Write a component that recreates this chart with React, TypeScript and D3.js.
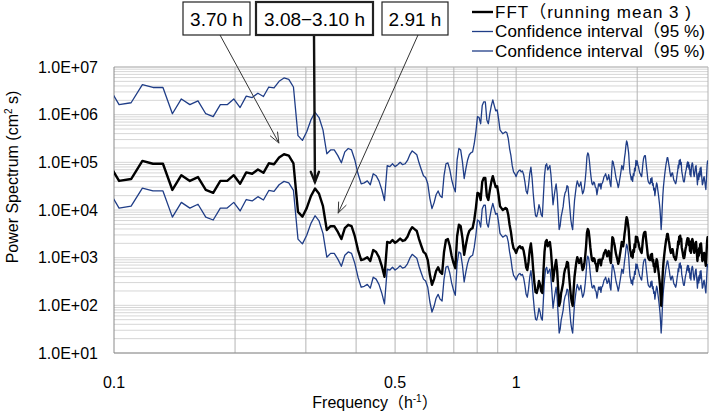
import React from "react";
import * as d3 from "d3";

// FFT bins: frequency = (FIRST_BIN + i) / RECORD_LENGTH_H  (h^-1)
const RECORD_LENGTH_H = 136;
const FIRST_BIN = 13;

// log10 of power spectrum (cm^2 s)
const fftLog10 = [
  5.07, 4.61, 4.65, 5.03, 4.97, 4.97, 4.42, 4.73, 4.61, 4.69,
  4.42, 4.36, 4.61, 4.61, 4.73, 4.55, 4.79, 4.76, 4.85, 4.78,
  4.98, 4.96, 5.10, 5.17, 5.14, 4.98, 3.96, 3.86, 4.04, 4.29,
  4.45, 4.34, 4.08, 3.58, 3.66, 3.66, 3.54, 3.39, 3.62, 3.69,
  3.66, 3.45, 3.16, 2.95, 2.97, 3.01, 2.93, 3.16, 3.12, 3.01,
  2.83, 2.60, 3.33, 3.31, 3.37, 3.31, 3.35, 3.40, 3.35, 3.37,
  3.44, 3.56, 3.64, 3.60, 3.56, 3.39, 3.25, 3.12, 3.08, 2.95,
  2.64, 2.43, 2.55, 2.72, 2.80, 2.70, 2.66, 3.12, 3.37, 3.39,
  3.25, 3.04, 2.89, 2.78, 3.45, 3.69, 3.66, 3.41, 3.06, 3.27,
  3.45, 3.56, 3.60, 3.62, 3.79, 4.04, 4.36, 4.34, 4.21, 4.59,
  4.67, 4.67, 4.29, 4.21, 4.42, 4.59, 4.71, 4.59, 4.48, 4.50,
  4.31, 4.08, 4.04, 4.00, 4.02, 4.04, 4.02, 3.90, 3.69, 3.54,
  3.33, 3.20, 3.16, 3.10, 3.18, 3.22, 3.24, 3.20, 3.22, 3.14,
  2.99, 2.80, 2.74, 2.91, 3.16, 3.30, 3.07, 2.74, 2.47, 2.28,
  2.26, 2.36, 2.51, 2.43, 2.30, 2.26, 2.70, 3.12, 3.33, 3.37,
  3.24, 3.29, 3.33, 3.14, 2.83, 2.51, 2.68, 2.83, 2.95, 2.74,
  2.36, 1.99, 2.07, 2.26, 2.36, 2.47, 2.66, 2.76, 2.80, 2.91,
  2.89, 2.66, 2.43, 2.20, 2.07, 1.99, 2.32, 2.60, 2.76, 2.91,
  3.01, 2.95, 2.89, 2.93, 2.99, 2.85, 2.74, 2.78, 2.87, 3.03,
  3.24, 3.52, 3.60, 3.56, 3.41, 3.22, 3.07, 2.95, 2.93, 2.99,
  2.97, 2.88, 2.86, 2.72, 2.82, 2.95, 2.90, 2.96, 2.84, 2.95,
  2.97, 3.03, 3.10, 3.12, 3.16, 3.10, 3.03, 3.05, 3.14, 3.07,
  2.95, 2.89, 3.20, 3.43, 3.41, 3.33, 3.26, 3.16, 3.07, 3.01,
  2.95, 2.87, 2.93, 3.03, 3.12, 3.22, 3.33, 3.31, 3.24, 3.35,
  3.50, 3.60, 3.75, 3.85, 3.81, 3.71, 3.60, 3.37, 3.18, 3.12,
  3.03, 3.10, 3.00, 3.16, 3.12, 3.28, 3.22, 3.44, 3.34, 3.43,
  3.35, 3.31, 3.24, 3.18, 3.16, 3.12, 3.10, 3.22, 3.37, 3.47,
  3.52, 3.54, 3.54, 3.41, 3.29, 3.18, 3.05, 2.99, 2.97, 2.95,
  2.95, 3.06, 2.98, 3.08, 2.92, 2.96, 2.82, 2.86, 2.70, 2.80,
  2.89, 2.97, 2.93, 2.83, 2.74, 2.64, 2.53, 2.41, 2.22, 1.99,
  2.18, 2.47, 2.70, 2.87, 2.99, 3.10, 3.20, 3.29, 3.37, 3.43,
  3.50, 3.50, 3.43, 3.35, 3.29, 3.20, 3.14, 3.10, 3.14, 3.18,
  3.18, 3.12, 3.05, 3.01, 3.01, 2.97, 2.95, 2.99, 3.07, 3.16,
  3.22, 3.34, 3.28, 3.44, 3.36, 3.46, 3.35, 3.40, 3.22, 3.16,
  3.10, 3.03, 2.99, 2.99, 3.05, 3.14, 3.20, 3.24, 3.31, 3.37,
  3.41, 3.30, 3.40, 3.26, 3.34, 3.14, 3.24, 3.10, 3.28, 3.36,
  3.39, 3.35, 3.24, 3.16, 3.10, 3.16, 3.24, 3.31, 3.33, 3.20,
  3.07, 2.93, 3.05, 3.16, 3.04, 3.20, 3.10, 3.28, 3.14, 3.30,
  3.18, 3.05, 2.93, 2.95, 3.01, 3.07, 3.10, 3.03, 2.97, 2.89,
  2.83, 2.99, 3.18, 3.35, 3.43, 3.37,
];

const ciUpperLog10 = [
  6.67, 6.21, 6.25, 6.63, 6.57, 6.57, 6.02, 6.33, 6.21, 6.29,
  6.02, 5.96, 6.21, 6.21, 6.33, 6.15, 6.39, 6.36, 6.45, 6.38,
  6.58, 6.56, 6.70, 6.77, 6.74, 6.58, 5.56, 5.46, 5.64, 5.89,
  6.05, 5.94, 5.68, 5.18, 5.26, 5.26, 5.14, 4.99, 5.22, 5.29,
  5.26, 5.05, 4.76, 4.55, 4.57, 4.61, 4.53, 4.76, 4.72, 4.61,
  4.43, 4.20, 4.93, 4.91, 4.97, 4.91, 4.95, 5.00, 4.95, 4.97,
  5.04, 5.16, 5.24, 5.20, 5.16, 4.99, 4.85, 4.72, 4.68, 4.55,
  4.24, 4.03, 4.15, 4.32, 4.40, 4.30, 4.26, 4.72, 4.97, 4.99,
  4.85, 4.64, 4.49, 4.38, 5.05, 5.29, 5.26, 5.01, 4.66, 4.87,
  5.05, 5.16, 5.20, 5.22, 5.39, 5.64, 5.96, 5.94, 5.81, 6.19,
  6.27, 6.27, 5.89, 5.81, 6.02, 6.19, 6.31, 6.19, 6.08, 6.10,
  5.91, 5.68, 5.64, 5.60, 5.62, 5.64, 5.62, 5.50, 5.29, 5.14,
  4.93, 4.80, 4.76, 4.70, 4.78, 4.82, 4.84, 4.80, 4.82, 4.74,
  4.59, 4.40, 4.34, 4.51, 4.76, 4.90, 4.67, 4.34, 4.07, 3.88,
  3.86, 3.96, 4.11, 4.03, 3.90, 3.86, 4.30, 4.72, 4.93, 4.97,
  4.84, 4.89, 4.93, 4.74, 4.43, 4.11, 4.28, 4.43, 4.55, 4.34,
  3.96, 3.59, 3.67, 3.86, 3.96, 4.07, 4.26, 4.36, 4.40, 4.51,
  4.49, 4.26, 4.03, 3.80, 3.67, 3.59, 3.92, 4.20, 4.36, 4.51,
  4.61, 4.55, 4.49, 4.53, 4.59, 4.45, 4.34, 4.38, 4.47, 4.63,
  4.84, 5.12, 5.20, 5.16, 5.01, 4.82, 4.67, 4.55, 4.53, 4.59,
  4.57, 4.48, 4.46, 4.32, 4.42, 4.55, 4.50, 4.56, 4.44, 4.55,
  4.57, 4.63, 4.70, 4.72, 4.76, 4.70, 4.63, 4.65, 4.74, 4.67,
  4.55, 4.49, 4.80, 5.03, 5.01, 4.93, 4.86, 4.76, 4.67, 4.61,
  4.55, 4.47, 4.53, 4.63, 4.72, 4.82, 4.93, 4.91, 4.84, 4.95,
  5.10, 5.20, 5.35, 5.45, 5.41, 5.31, 5.20, 4.97, 4.78, 4.72,
  4.63, 4.70, 4.60, 4.76, 4.72, 4.88, 4.82, 5.04, 4.94, 5.03,
  4.95, 4.91, 4.84, 4.78, 4.76, 4.72, 4.70, 4.82, 4.97, 5.07,
  5.12, 5.14, 5.14, 5.01, 4.89, 4.78, 4.65, 4.59, 4.57, 4.55,
  4.55, 4.66, 4.58, 4.68, 4.52, 4.56, 4.42, 4.46, 4.30, 4.40,
  4.49, 4.57, 4.53, 4.43, 4.34, 4.24, 4.13, 4.01, 3.82, 3.59,
  3.78, 4.07, 4.30, 4.47, 4.59, 4.70, 4.80, 4.89, 4.97, 5.03,
  5.10, 5.10, 5.03, 4.95, 4.89, 4.80, 4.74, 4.70, 4.74, 4.78,
  4.78, 4.72, 4.65, 4.61, 4.61, 4.57, 4.55, 4.59, 4.67, 4.76,
  4.82, 4.94, 4.88, 5.04, 4.96, 5.06, 4.95, 5.00, 4.82, 4.76,
  4.70, 4.63, 4.59, 4.59, 4.65, 4.74, 4.80, 4.84, 4.91, 4.97,
  5.01, 4.90, 5.00, 4.86, 4.94, 4.74, 4.84, 4.70, 4.88, 4.96,
  4.99, 4.95, 4.84, 4.76, 4.70, 4.76, 4.84, 4.91, 4.93, 4.80,
  4.67, 4.53, 4.65, 4.76, 4.64, 4.80, 4.70, 4.88, 4.74, 4.90,
  4.78, 4.65, 4.53, 4.55, 4.61, 4.67, 4.70, 4.63, 4.57, 4.49,
  4.43, 4.59, 4.78, 4.95, 5.03, 4.97,
];

const ciLowerLog10 = [
  4.50, 4.04, 4.08, 4.46, 4.40, 4.40, 3.85, 4.16, 4.04, 4.12,
  3.85, 3.79, 4.04, 4.04, 4.16, 3.98, 4.22, 4.19, 4.28, 4.21,
  4.41, 4.39, 4.53, 4.60, 4.57, 4.41, 3.39, 3.29, 3.47, 3.72,
  3.88, 3.77, 3.51, 3.01, 3.09, 3.09, 2.97, 2.82, 3.05, 3.12,
  3.09, 2.88, 2.59, 2.38, 2.40, 2.44, 2.36, 2.59, 2.55, 2.44,
  2.26, 2.03, 2.76, 2.74, 2.80, 2.74, 2.78, 2.83, 2.78, 2.80,
  2.87, 2.99, 3.07, 3.03, 2.99, 2.82, 2.68, 2.55, 2.51, 2.38,
  2.07, 1.86, 1.98, 2.15, 2.23, 2.13, 2.09, 2.55, 2.80, 2.82,
  2.68, 2.47, 2.32, 2.21, 2.88, 3.12, 3.09, 2.84, 2.49, 2.70,
  2.88, 2.99, 3.03, 3.05, 3.22, 3.47, 3.79, 3.77, 3.64, 4.02,
  4.10, 4.10, 3.72, 3.64, 3.85, 4.02, 4.14, 4.02, 3.91, 3.93,
  3.74, 3.51, 3.47, 3.43, 3.45, 3.47, 3.45, 3.33, 3.12, 2.97,
  2.76, 2.63, 2.59, 2.53, 2.61, 2.65, 2.67, 2.63, 2.65, 2.57,
  2.42, 2.23, 2.17, 2.34, 2.59, 2.73, 2.50, 2.17, 1.90, 1.71,
  1.69, 1.79, 1.94, 1.86, 1.73, 1.69, 2.13, 2.55, 2.76, 2.80,
  2.67, 2.72, 2.76, 2.57, 2.26, 1.94, 2.11, 2.26, 2.38, 2.17,
  1.79, 1.42, 1.50, 1.69, 1.79, 1.90, 2.09, 2.19, 2.23, 2.34,
  2.32, 2.09, 1.86, 1.63, 1.50, 1.42, 1.75, 2.03, 2.19, 2.34,
  2.44, 2.38, 2.32, 2.36, 2.42, 2.28, 2.17, 2.21, 2.30, 2.46,
  2.67, 2.95, 3.03, 2.99, 2.84, 2.65, 2.50, 2.38, 2.36, 2.42,
  2.40, 2.31, 2.29, 2.15, 2.25, 2.38, 2.33, 2.39, 2.27, 2.38,
  2.40, 2.46, 2.53, 2.55, 2.59, 2.53, 2.46, 2.48, 2.57, 2.50,
  2.38, 2.32, 2.63, 2.86, 2.84, 2.76, 2.69, 2.59, 2.50, 2.44,
  2.38, 2.30, 2.36, 2.46, 2.55, 2.65, 2.76, 2.74, 2.67, 2.78,
  2.93, 3.03, 3.18, 3.28, 3.24, 3.14, 3.03, 2.80, 2.61, 2.55,
  2.46, 2.53, 2.43, 2.59, 2.55, 2.71, 2.65, 2.87, 2.77, 2.86,
  2.78, 2.74, 2.67, 2.61, 2.59, 2.55, 2.53, 2.65, 2.80, 2.90,
  2.95, 2.97, 2.97, 2.84, 2.72, 2.61, 2.48, 2.42, 2.40, 2.38,
  2.38, 2.49, 2.41, 2.51, 2.35, 2.39, 2.25, 2.29, 2.13, 2.23,
  2.32, 2.40, 2.36, 2.26, 2.17, 2.07, 1.96, 1.84, 1.65, 1.42,
  1.61, 1.90, 2.13, 2.30, 2.42, 2.53, 2.63, 2.72, 2.80, 2.86,
  2.93, 2.93, 2.86, 2.78, 2.72, 2.63, 2.57, 2.53, 2.57, 2.61,
  2.61, 2.55, 2.48, 2.44, 2.44, 2.40, 2.38, 2.42, 2.50, 2.59,
  2.65, 2.77, 2.71, 2.87, 2.79, 2.89, 2.78, 2.83, 2.65, 2.59,
  2.53, 2.46, 2.42, 2.42, 2.48, 2.57, 2.63, 2.67, 2.74, 2.80,
  2.84, 2.73, 2.83, 2.69, 2.77, 2.57, 2.67, 2.53, 2.71, 2.79,
  2.82, 2.78, 2.67, 2.59, 2.53, 2.59, 2.67, 2.74, 2.76, 2.63,
  2.50, 2.36, 2.48, 2.59, 2.47, 2.63, 2.53, 2.71, 2.57, 2.73,
  2.61, 2.48, 2.36, 2.38, 2.44, 2.50, 2.53, 2.46, 2.40, 2.32,
  2.26, 2.42, 2.61, 2.78, 2.86, 2.80,
];

const yTickValues = [1e1, 1e2, 1e3, 1e4, 1e5, 1e6, 1e7];
const yTickLabels = ["1.0E+01", "1.0E+02", "1.0E+03", "1.0E+04", "1.0E+05", "1.0E+06", "1.0E+07"];
const xTickValues = [0.1, 0.5, 1];
const xTickLabels = ["0.1", "0.5", "1"];
const xGridValues = [0.2, 0.3, 0.4, 0.5, 0.6, 0.7, 0.8, 0.9, 1, 2];

const seriesNames = ["FFT（running mean 3 )", "Confidence interval（95 %)", "Confidence interval（95 %)"];

const annotationLabels = ["3.70 h", "3.08−3.10 h", "2.91 h"];
const annotationTipFreq = [0.257, 0.316, 0.361];
const annotationTipPower = [2.55e5, 3.86e4, 8.65e3];

const FONT = "'Liberation Sans', Arial, 'Noto Sans CJK JP', sans-serif";
const BLUE = "#1f3d87";

export default function App() {
  const W = 709;
  const H = 412;
  const plot = { left: 114, right: 708, top: 67, bottom: 353 };

  const x = d3.scaleLog().domain([0.1, 3]).range([plot.left, plot.right]);
  const y = d3.scaleLog().domain([1e1, 1e7]).range([plot.bottom, plot.top]);

  const freqs = fftLog10.map((_, i) => (FIRST_BIN + i) / RECORD_LENGTH_H);
  const toPts = (arr: number[]) => arr.map((v, i) => [freqs[i], Math.pow(10, v)] as [number, number]);

  const line = d3
    .line<[number, number]>()
    .x((d) => x(d[0]))
    .y((d) => y(d[1]));

  const minorY: number[] = [];
  for (let e = 1; e < 7; e++) for (let m = 1; m < 10; m++) minorY.push(m * Math.pow(10, e));
  minorY.push(1e7);

  // annotation box layout
  const boxes = [
    { x0: 183, x1: 250, anchor: 220, sw: 1.2 },
    { x0: 256, x1: 373, anchor: 314, sw: 2.2 },
    { x0: 382, x1: 448, anchor: 418, sw: 1.2 },
  ];
  const boxTop = 2;
  const boxBottom = 35;

  const arrow = (x0: number, y0: number, x1: number, y1: number, sw: number, color: string, key: string) => {
    const ang = Math.atan2(y1 - y0, x1 - x0);
    const len = 11;
    const spread = 0.38;
    const a1 = ang + Math.PI - spread;
    const a2 = ang + Math.PI + spread;
    const p1 = [x1 + len * Math.cos(a1), y1 + len * Math.sin(a1)];
    const p2 = [x1 + len * Math.cos(a2), y1 + len * Math.sin(a2)];
    return (
      <g key={key} stroke={color} strokeWidth={sw} fill="none" strokeLinecap="round">
        <line x1={x0} y1={y0} x2={x1} y2={y1} />
        <polyline points={`${p1[0]},${p1[1]} ${x1},${y1} ${p2[0]},${p2[1]}`} />
      </g>
    );
  };

  const legendRows = [12, 31.5, 51];
  const legendTextLen = [196, 210, 210];

  return (
    <svg
      width={W}
      height={H}
      style={{ position: "absolute", left: 0, top: 0, background: "#fff" }}
      fontFamily={FONT}
    >
      <rect x={0} y={0} width={W} height={H} fill="#fff" />
      <defs>
        <clipPath id="plotClip">
          <rect x={plot.left} y={plot.top} width={plot.right - plot.left} height={plot.bottom - plot.top} />
        </clipPath>
      </defs>

      {/* horizontal grid */}
      {minorY.map((v, i) => (
        <line key={"hg" + i} x1={plot.left} x2={plot.right} y1={y(v)} y2={y(v)} stroke="#d6d6d6" strokeWidth={1} />
      ))}
      {/* vertical grid */}
      {xGridValues.map((v, i) => (
        <line key={"vg" + i} x1={x(v)} x2={x(v)} y1={plot.top} y2={plot.bottom} stroke="#b4b4b4" strokeWidth={1} />
      ))}
      {/* frame */}
      <line x1={plot.left} x2={plot.right} y1={plot.top} y2={plot.top} stroke="#b4b4b4" />
      <line x1={plot.right} x2={plot.right} y1={plot.top} y2={plot.bottom} stroke="#b4b4b4" />
      <line x1={plot.left} x2={plot.left} y1={plot.top} y2={plot.bottom} stroke="#8a8a8a" />
      <line x1={plot.left} x2={plot.right} y1={plot.bottom} y2={plot.bottom} stroke="#8a8a8a" />

      {/* series */}
      <g clipPath="url(#plotClip)" fill="none" strokeLinejoin="round">
        <path d={line(toPts(ciUpperLog10)) || ""} stroke={BLUE} strokeWidth={1.3} />
        <path d={line(toPts(ciLowerLog10)) || ""} stroke={BLUE} strokeWidth={1.3} />
        <path d={line(toPts(fftLog10)) || ""} stroke="#000" strokeWidth={2.4} />
      </g>

      {/* y ticks */}
      {yTickValues.map((v, i) => (
        <text key={"yt" + i} x={98} y={y(v)} dy="0.35em" textAnchor="end" fontSize={16} fill="#000">
          {yTickLabels[i]}
        </text>
      ))}
      {/* x ticks */}
      {xTickValues.map((v, i) => (
        <text key={"xt" + i} x={x(v)} y={382} dy="0.35em" textAnchor="middle" fontSize={16} fill="#000">
          {xTickLabels[i]}
        </text>
      ))}

      {/* axis titles */}
      <text x={375} y={402} dy="0.35em" textAnchor="middle" fontSize={16} fill="#000">
        Frequency（h<tspan dy="-6" fontSize={10}>-1</tspan>
        <tspan dy="6">）</tspan>
      </text>
      <text
        transform="translate(12,177) rotate(-90)"
        dy="0.35em"
        textAnchor="middle"
        fontSize={16}
        fill="#000"
      >
        Power Spectrum (cm<tspan dy="-6" fontSize={10}>2</tspan>
        <tspan dy="6"> s)</tspan>
      </text>

      {/* legend */}
      {seriesNames.map((name, i) => (
        <g key={"lg" + i}>
          <line
            x1={472}
            x2={493}
            y1={legendRows[i]}
            y2={legendRows[i]}
            stroke={i === 0 ? "#000" : BLUE}
            strokeWidth={i === 0 ? 2.4 : 1.3}
          />
          <text
            x={495}
            y={legendRows[i]}
            dy="0.35em"
            fontSize={17}
            fill="#000"
            textLength={legendTextLen[i]}
            lengthAdjust="spacing"
          >
            {name}
          </text>
        </g>
      ))}

      {/* annotations */}
      {annotationLabels.map((lab, i) => {
        const b = boxes[i];
        return (
          <g key={"an" + i}>
            {arrow(
              b.anchor,
              boxBottom,
              x(annotationTipFreq[i]),
              y(annotationTipPower[i]),
              i === 1 ? 2.4 : 1,
              i === 1 ? "#111" : "#333",
              "ar" + i
            )}
            <rect
              x={b.x0}
              y={boxTop}
              width={b.x1 - b.x0}
              height={boxBottom - boxTop}
              fill="#fff"
              stroke="#222"
              strokeWidth={b.sw}
            />
            <text
              x={(b.x0 + b.x1) / 2}
              y={(boxTop + boxBottom) / 2 + 1}
              dy="0.35em"
              textAnchor="middle"
              fontSize={19}
              fill="#000"
            >
              {lab}
            </text>
          </g>
        );
      })}
    </svg>
  );
}
